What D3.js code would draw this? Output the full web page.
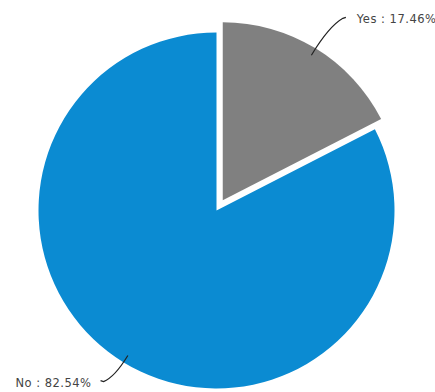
<!DOCTYPE html>
<html>
<head>
<meta charset="utf-8">
<script src="https://cdn.jsdelivr.net/npm/d3@7"></script>
<style>
  body { margin: 0; background: #fff; }
  .lbl { font-family: "DejaVu Sans", Verdana, sans-serif; font-size: 11.5px; letter-spacing: 0.5px; fill: #444; }
</style>
</head>
<body>
<div id="chart"></div>
<script>
// data
var categories = ["Yes", "No"];
var values = [17.46, 82.54];
var colors = ["#808080", "#0b8bd2"];

var width = 435, height = 392;
var cx = 216.5, cy = 210.5, radius = 178;
var explode = [12, 0]; // how far each slice is pulled out
var leader = [40, 27]; // leader length past the rim

var svg = d3.select("#chart").append("svg")
    .attr("width", width)
    .attr("height", height);

var g = svg.append("g")
    .attr("transform", "translate(" + cx + "," + cy + ")");

var pie = d3.pie().sort(null).value(function(d) { return d.value; });
var arc = d3.arc().innerRadius(0).outerRadius(radius);

var dataset = categories.map(function(c, i) { return {name: c, value: values[i], i: i}; });
var arcs = pie(dataset);

function mid(d) { return (d.startAngle + d.endAngle) / 2; }
function pt(a, r) { return [Math.sin(a) * r, -Math.cos(a) * r]; }

// slices
g.selectAll(".slice")
    .data(arcs)
    .enter().append("path")
    .attr("class", "slice")
    .attr("fill", function(d) { return colors[d.data.i]; })
    .attr("transform", function(d) {
        var o = pt(mid(d), explode[d.data.i]);
        return "translate(" + o[0] + "," + o[1] + ")";
    })
    .attr("d", arc);

// leader lines + labels
arcs.forEach(function(d) {
    var a = mid(d);
    var len = leader[d.data.i];
    var o = pt(a, explode[d.data.i]);
    var p1 = pt(a, radius - 8);
    var c1 = pt(a, radius + len * 0.65);
    var p2 = pt(a + 0.035, radius + len);
    var right = Math.sin(a) > 0;
    var lg = g.append("g").attr("transform", "translate(" + o[0] + "," + o[1] + ")");
    lg.append("path")
        .attr("d", "M" + p1 + "Q" + c1 + " " + p2 + "l" + (right ? 3 : -3) + ",-1")
        .attr("fill", "none")
        .attr("stroke", "#222")
        .attr("stroke-width", 1.2);
    lg.append("text")
        .attr("class", "lbl")
        .attr("x", p2[0] + (right ? 14 : -12))
        .attr("y", p2[1] + 5)
        .attr("text-anchor", right ? "start" : "end")
        .text(d.data.name + " : " + d3.format(".2f")(d.data.value) + "%");
});
</script>
</body>
</html>
